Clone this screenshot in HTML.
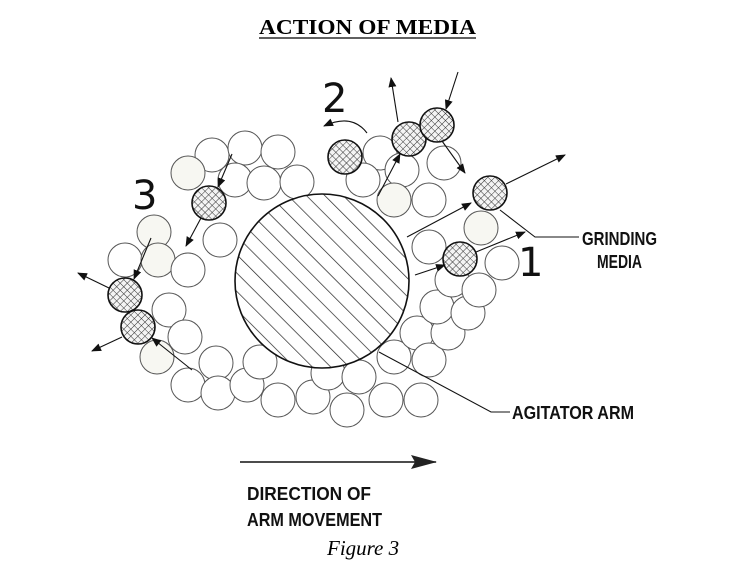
<!DOCTYPE html>
<html><head><meta charset="utf-8"><style>
html,body{margin:0;padding:0;background:#fff;}
body{width:730px;height:571px;overflow:hidden;position:relative;}
svg{position:absolute;left:0;top:0;}
</style></head><body>
<svg width="730" height="571" viewBox="0 0 730 571" xmlns="http://www.w3.org/2000/svg">
<defs>
<pattern id="diag" patternUnits="userSpaceOnUse" width="13" height="13" patternTransform="rotate(-45)">
<rect width="13" height="13" fill="#fff"/><line x1="0" y1="0" x2="0" y2="13" stroke="#222" stroke-width="1.4"/>
</pattern>
<pattern id="xh" patternUnits="userSpaceOnUse" width="5" height="5" patternTransform="rotate(45)">
<rect width="5" height="5" fill="#f4f4f4"/><line x1="0" y1="0" x2="0" y2="5" stroke="#333" stroke-width="1"/><line x1="0" y1="0" x2="5" y2="0" stroke="#333" stroke-width="1"/>
</pattern>
<marker id="ah" markerWidth="10" markerHeight="8" refX="9" refY="4" orient="auto" markerUnits="userSpaceOnUse">
<path d="M0,0 L10,4 L0,8 Z" fill="#111"/>
</marker>
<marker id="ahb" markerWidth="26" markerHeight="14" refX="25" refY="7" orient="auto" markerUnits="userSpaceOnUse">
<path d="M0,0 L26,7 L0,14 L4,7 Z" fill="#222"/>
</marker>
</defs>
<text x="259" y="34" font-family="Liberation Serif, serif" font-weight="bold" font-size="21" textLength="217" lengthAdjust="spacingAndGlyphs">ACTION OF MEDIA</text>
<line x1="259" y1="38" x2="476" y2="38" stroke="#000" stroke-width="1.3"/>

<g fill="#fff" stroke="#555" stroke-width="1">
<circle cx="212" cy="155" r="17"/><circle cx="245" cy="148" r="17"/><circle cx="278" cy="152" r="17"/>
<circle cx="188" cy="173" r="17" fill="#f7f7f2"/><circle cx="235" cy="180" r="17"/><circle cx="264" cy="183" r="17"/><circle cx="297" cy="182" r="17"/>
<circle cx="380" cy="153" r="17"/><circle cx="363" cy="180" r="17"/><circle cx="402" cy="170" r="17"/><circle cx="444" cy="163" r="17"/>
<circle cx="394" cy="200" r="17" fill="#f7f7f2"/><circle cx="429" cy="200" r="17"/>
<circle cx="220" cy="240" r="17"/><circle cx="154" cy="232" r="17" fill="#f7f7f2"/><circle cx="125" cy="260" r="17"/><circle cx="158" cy="260" r="17" fill="#f7f7f2"/><circle cx="188" cy="270" r="17"/>
<circle cx="169" cy="310" r="17"/><circle cx="185" cy="337" r="17"/><circle cx="157" cy="357" r="17" fill="#f7f7f2"/>
<circle cx="188" cy="385" r="17"/><circle cx="216" cy="363" r="17"/><circle cx="218" cy="393" r="17"/><circle cx="247" cy="385" r="17"/>
<circle cx="260" cy="362" r="17"/><circle cx="278" cy="400" r="17"/><circle cx="313" cy="397" r="17"/><circle cx="328" cy="373" r="17"/>
<circle cx="347" cy="410" r="17"/><circle cx="359" cy="377" r="17"/><circle cx="386" cy="400" r="17"/><circle cx="394" cy="357" r="17"/>
<circle cx="417" cy="333" r="17"/><circle cx="421" cy="400" r="17"/><circle cx="429" cy="360" r="17"/><circle cx="448" cy="333" r="17"/>
<circle cx="437" cy="307" r="17"/><circle cx="468" cy="313" r="17"/><circle cx="452" cy="280" r="17"/><circle cx="479" cy="290" r="17"/>
<circle cx="429" cy="247" r="17"/><circle cx="481" cy="228" r="17" fill="#f7f7f2"/><circle cx="502" cy="263" r="17"/>
</g>

<circle cx="322" cy="281" r="87" fill="url(#diag)" stroke="#111" stroke-width="1.6"/>

<g fill="url(#xh)" stroke="#111" stroke-width="1.6">
<circle cx="345" cy="157" r="17"/><circle cx="409" cy="139" r="17"/><circle cx="437" cy="125" r="17"/>
<circle cx="490" cy="193" r="17"/><circle cx="460" cy="259" r="17"/><circle cx="209" cy="203" r="17"/>
<circle cx="125" cy="295" r="17"/><circle cx="138" cy="327" r="17"/>
</g>

<g stroke="#111" stroke-width="1.1" fill="none">
<line x1="407" y1="237" x2="471" y2="203" marker-end="url(#ah)"/>
<line x1="506" y1="184" x2="565" y2="155" marker-end="url(#ah)"/>
<line x1="415" y1="275" x2="445" y2="265" marker-end="url(#ah)"/>
<line x1="476" y1="252" x2="525" y2="232" marker-end="url(#ah)"/>
<line x1="398" y1="122" x2="391" y2="78" marker-end="url(#ah)"/>
<line x1="458" y1="72" x2="446" y2="109" marker-end="url(#ah)"/>
<line x1="442" y1="141" x2="465" y2="173" marker-end="url(#ah)"/>
<line x1="378" y1="196" x2="400" y2="154" marker-end="url(#ah)"/>
<path d="M367 133 Q352 113 324 126" marker-end="url(#ah)"/>
<line x1="232" y1="154" x2="218" y2="187" marker-end="url(#ah)"/>
<line x1="201" y1="218" x2="186" y2="246" marker-end="url(#ah)"/>
<line x1="151" y1="238" x2="134" y2="279" marker-end="url(#ah)"/>
<line x1="109" y1="288" x2="78" y2="273" marker-end="url(#ah)"/>
<line x1="192" y1="370" x2="152" y2="338" marker-end="url(#ah)"/>
<line x1="122" y1="337" x2="92" y2="351" marker-end="url(#ah)"/>
<polyline points="500,210 535,237 579,237"/>
<polyline points="379,352 491,412 510,412"/>
<line x1="240" y1="462" x2="436" y2="462" stroke-width="1.5" marker-end="url(#ahb)"/>
</g>

<g font-family="DejaVu Sans, Liberation Sans, sans-serif" fill="#111">
<text x="322" y="112" font-size="40">2</text>
<text x="132" y="209" font-size="40">3</text>
<text x="518" y="276" font-size="40">1</text>
</g>
<g font-family="Liberation Sans, sans-serif" font-weight="bold" fill="#111" font-size="18" lengthAdjust="spacingAndGlyphs">
<text x="582" y="245" textLength="75" lengthAdjust="spacingAndGlyphs">GRINDING</text>
<text x="597" y="268" textLength="45" lengthAdjust="spacingAndGlyphs">MEDIA</text>
<text x="512" y="419" textLength="122" lengthAdjust="spacingAndGlyphs">AGITATOR ARM</text>
<text x="247" y="500" textLength="124" lengthAdjust="spacingAndGlyphs">DIRECTION  OF</text>
<text x="247" y="526" textLength="135" lengthAdjust="spacingAndGlyphs">ARM  MOVEMENT</text>
</g>
<text x="327" y="555" font-family="Liberation Serif, serif" font-style="italic" font-size="21">Figure 3</text>
</svg>
</body></html>
